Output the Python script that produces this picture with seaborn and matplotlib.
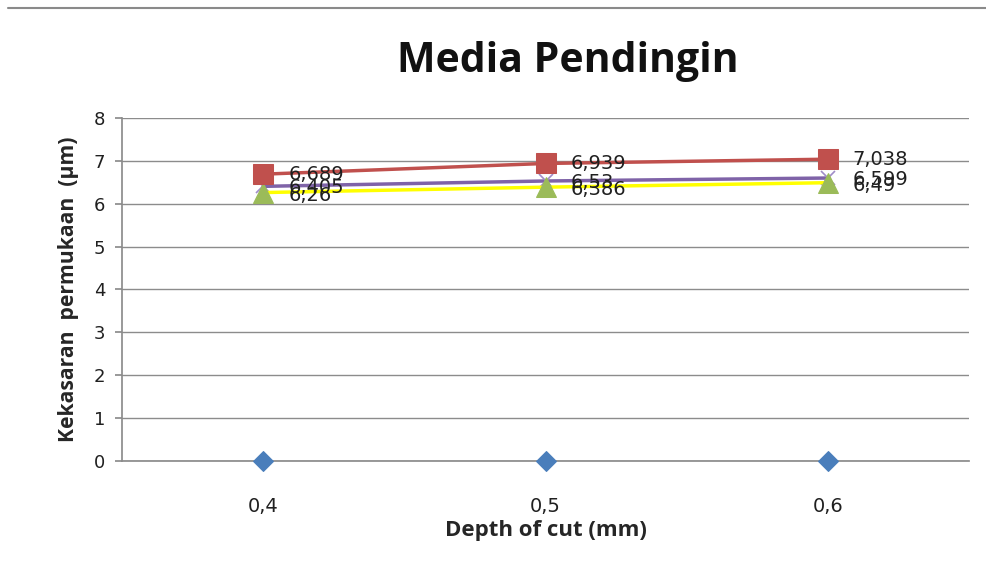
import numpy as np
import pandas as pd
import matplotlib
matplotlib.use("Agg")
import matplotlib.pyplot as plt
import seaborn as sns

sns.set_theme(style="white")
plt.rcParams['font.family'] = ['DejaVu Sans']

# data
kategori = ["0,4", "0,5", "0,6"]
seri_biru = [0, 0, 0]
seri_merah = [6.689, 6.939, 7.038]
seri_ungu = [6.405, 6.53, 6.599]
seri_kuning = [6.26, 6.386, 6.49]

label_merah = ["6,689", "6,939", "7,038"]
label_ungu = ["6,405", "6,53", "6,599"]
label_kuning = ["6,26", "6,386", "6,49"]

fig = plt.figure(figsize=(9.87, 5.81), dpi=100)
ax = fig.add_axes([0.1236, 0.2065, 0.8582, 0.5905])

# garis tepi atas gambar
fig.add_artist(plt.Line2D([0.008, 1.0], [0.986, 0.986], color="#8a8a8a", lw=1.5))

df = pd.DataFrame({"x": kategori, "biru": seri_biru, "merah": seri_merah,
                   "ungu": seri_ungu, "kuning": seri_kuning})

sns.lineplot(data=df, x="x", y="biru", ax=ax, color="#4a7ebb", lw=0,
             marker="D", markersize=10, markeredgecolor="#4a7ebb", zorder=5,
             clip_on=False)
sns.lineplot(data=df, x="x", y="kuning", ax=ax, color="#ffff00", lw=2.5,
             marker="^", markersize=15, markerfacecolor="#9bbb59",
             markeredgecolor="#9bbb59", zorder=4)
sns.lineplot(data=df, x="x", y="ungu", ax=ax, color="#7f63a8", lw=2.5,
             marker="x", markersize=10, markeredgecolor="#a08cc8",
             markeredgewidth=1.2, zorder=3)
sns.lineplot(data=df, x="x", y="merah", ax=ax, color="#c0504d", lw=2.5,
             marker="s", markersize=14, markeredgecolor="#c0504d", zorder=6)

# label data (saling menumpuk seperti di aslinya)
for seri, lab, dy in [(seri_merah, label_merah, 0),
                      (seri_ungu, label_ungu, -1),
                      (seri_kuning, label_kuning, -2)]:
    for i, (v, t) in enumerate(zip(seri, lab)):
        ax.annotate(t, (i, v), xytext=(18, dy), textcoords="offset points",
                    ha="left", va="center", fontsize=14, color="#202020",
                    family="DejaVu Sans", zorder=7)

ax.set_xlim(-0.5, 2.5)
ax.set_ylim(0, 8)
ax.set_yticks(range(0, 9))
ax.yaxis.grid(True, color="#8c8c8c", lw=1)
ax.xaxis.grid(False)
for s in ["top", "right"]:
    ax.spines[s].set_visible(False)
ax.spines["left"].set_color("#8c8c8c")
ax.spines["bottom"].set_color("#8c8c8c")
ax.tick_params(axis="y", which="both", left=True, length=5, color="#8c8c8c",
               labelsize=13, pad=7, labelcolor="#202020")
ax.tick_params(axis="x", bottom=False, labelsize=14, pad=20, labelcolor="#202020")

ax.set_xlabel("Depth of cut (mm)", fontsize=16, fontweight="bold",
              family="Open Sans", labelpad=3, color="#262626")
ax.set_ylabel("Kekasaran  permukaan  (\u00b5m)", fontsize=15.2, fontweight="bold",
              family="Open Sans", labelpad=11, color="#262626")
fig.text(0.575, 0.895, "Media Pendingin", ha="center", va="center",
         fontsize=29.5, fontweight="bold", family="Open Sans", color="#111111")

fig.savefig("out.png", dpi=100)
